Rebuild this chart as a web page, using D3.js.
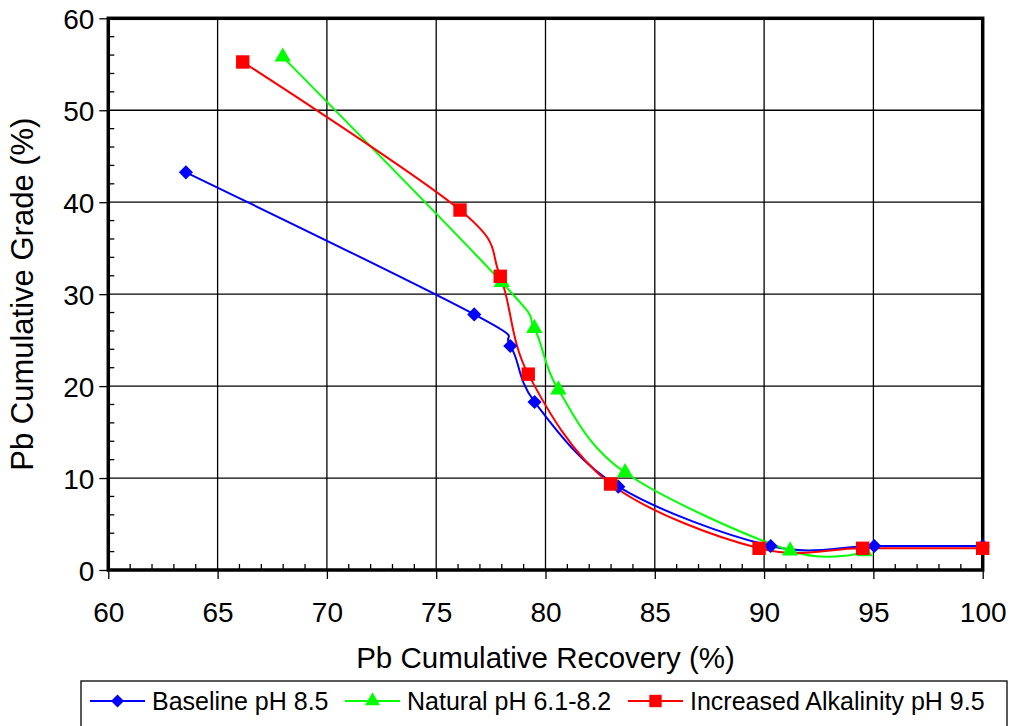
<!DOCTYPE html>
<html>
<head>
<meta charset="utf-8">
<script src="https://cdn.jsdelivr.net/npm/d3@7"></script>
<style>
  html, body { margin: 0; padding: 0; background: #fff; }
  svg { display: block; font-family: Arial, "Liberation Sans", sans-serif; }
</style>
</head>
<body>
<svg id="chart" width="1013" height="726"></svg>
<script>
// Pb cumulative recovery (%) vs cumulative grade (%) for three flotation conditions
const baselineRecovery = [63.55, 76.74, 78.39, 79.5, 83.33, 90.3, 95.04, 100];
const baselineGrade    = [43.25, 27.8, 24.36, 18.27, 9.06, 2.61, 2.61, 2.6];

const naturalRecovery  = [67.98, 78.0, 79.49, 80.59, 83.64, 91.19, 94.6];
const naturalGrade     = [55.8, 31.3, 26.3, 19.6, 10.6, 2.1, 2.0];

const alkalineRecovery = [66.15, 76.09, 77.93, 79.21, 82.98, 89.77, 94.51, 100];
const alkalineGrade    = [55.25, 39.15, 31.94, 21.3, 9.35, 2.36, 2.36, 2.36];

const seriesNames  = ["Baseline pH 8.5", "Natural pH 6.1-8.2", "Increased Alkalinity pH 9.5"];
const seriesColors = ["#0000ff", "#00ff00", "#ff0000"];

const xTicks = [60, 65, 70, 75, 80, 85, 90, 95, 100];
const yTicks = [0, 10, 20, 30, 40, 50, 60];

// marker shapes: diamond (rotated square), triangle, square
const markerSymbols = [
  { type: d3.symbolSquare, size: 100, rotate: 45 },
  { type: d3.symbolTriangle, size: 115, rotate: 0 },
  { type: d3.symbolSquare, size: 180, rotate: 0 }
];

const series = [
  { recovery: baselineRecovery, grade: baselineGrade },
  { recovery: naturalRecovery,  grade: naturalGrade },
  { recovery: alkalineRecovery, grade: alkalineGrade }
].map((s, i) => ({
  name: seriesNames[i], color: seriesColors[i], marker: markerSymbols[i],
  points: s.recovery.map((r, j) => ({ x: r, y: s.grade[j] }))
}));

const svg = d3.select("#chart");
const plotLeft = 108.3, plotRight = 982.7, plotTop = 18.3, plotBottom = 570;

const x = d3.scaleLinear().domain([60, 100]).range([plotLeft, plotRight]);
const y = d3.scaleLinear().domain([0, 60]).range([plotBottom, plotTop]);

// gridlines at major ticks
const grid = svg.append("g").attr("stroke", "#000").attr("stroke-width", 1.3);
grid.selectAll("line.vx").data(xTicks.slice(1, -1)).join("line")
  .attr("x1", d => x(d)).attr("x2", d => x(d)).attr("y1", plotTop).attr("y2", plotBottom);
grid.selectAll("line.hy").data(yTicks.slice(1, -1)).join("line")
  .attr("x1", plotLeft).attr("x2", plotRight).attr("y1", d => y(d)).attr("y2", d => y(d));

// minor ticks pointing inward
const minorX = d3.range(61, 100, 1).filter(v => v % 5 !== 0);
const minorY = d3.range(2, 60, 2).filter(v => v % 10 !== 0);
const minor = svg.append("g").attr("stroke", "#000").attr("stroke-width", 1.3);
minor.selectAll("line.mx").data(minorX).join("line")
  .attr("x1", d => x(d)).attr("x2", d => x(d)).attr("y1", plotBottom).attr("y2", plotBottom - 6);
minor.selectAll("line.my").data(minorY).join("line")
  .attr("x1", plotLeft).attr("x2", plotLeft + 6).attr("y1", d => y(d)).attr("y2", d => y(d));

// axes with outward major ticks
const xAxis = svg.append("g").attr("transform", `translate(0,${plotBottom})`)
  .call(d3.axisBottom(x).tickValues(xTicks).tickSize(9).tickPadding(23).tickFormat(d3.format("d")));
const yAxis = svg.append("g").attr("transform", `translate(${plotLeft},0)`)
  .call(d3.axisLeft(y).tickValues(yTicks).tickSize(9).tickPadding(5).tickFormat(d3.format("d")));
[xAxis, yAxis].forEach(a => {
  a.select(".domain").remove();
  a.selectAll(".tick line").attr("stroke", "#000").attr("stroke-width", 1.3);
  a.selectAll(".tick text").attr("fill", "#000").style("font-size", "28px")
    .style("font-family", "Arial, 'Liberation Sans', sans-serif");
});
xAxis.selectAll(".tick text").attr("dy", "0.72em");
yAxis.selectAll(".tick text").attr("dy", "0.36em");

// plot frame
svg.append("rect").attr("x", plotLeft).attr("y", plotTop)
  .attr("width", plotRight - plotLeft).attr("height", plotBottom - plotTop)
  .attr("fill", "none").attr("stroke", "#000").attr("stroke-width", 3.5);

// series lines (smoothed) and markers
const line = d3.line().x(d => x(d.x)).y(d => y(d.y)).curve(d3.curveCardinal.tension(0));
series.forEach(s => {
  svg.append("path").datum(s.points).attr("d", line)
    .attr("fill", "none").attr("stroke", s.color).attr("stroke-width", 2);
});
series.forEach(s => {
  svg.append("g").selectAll("path").data(s.points).join("path")
    .attr("transform", d => `translate(${x(d.x)},${y(d.y)}) rotate(${s.marker.rotate})`)
    .attr("d", d3.symbol().type(s.marker.type).size(s.marker.size))
    .attr("fill", s.color);
});

// axis titles
svg.append("text").attr("x", (plotLeft + plotRight) / 2).attr("y", 668)
  .attr("text-anchor", "middle").style("font-size", "29.5px").text("Pb Cumulative Recovery (%)");
svg.append("text").attr("transform", `translate(33,${(plotTop + plotBottom) / 2}) rotate(-90)`)
  .attr("text-anchor", "middle").style("font-size", "31px").text("Pb Cumulative Grade (%)");

// legend
const legend = svg.append("g");
legend.append("rect").attr("x", 81).attr("y", 681).attr("width", 926).attr("height", 60)
  .attr("fill", "#fff").attr("stroke", "#000").attr("stroke-width", 1.3);
const legendX = [90, 345, 628];
series.forEach((s, i) => {
  const g = legend.append("g").attr("transform", `translate(${legendX[i]},701)`);
  g.append("line").attr("x1", 0).attr("x2", 55).attr("stroke", s.color).attr("stroke-width", 2);
  g.append("path").attr("transform", `translate(27.5,0) rotate(${s.marker.rotate})`)
    .attr("d", d3.symbol().type(s.marker.type).size(s.marker.size * 0.85)).attr("fill", s.color);
  g.append("text").attr("x", 62).attr("dy", "0.36em").style("font-size", "25px").text(s.name);
});
</script>
</body>
</html>
